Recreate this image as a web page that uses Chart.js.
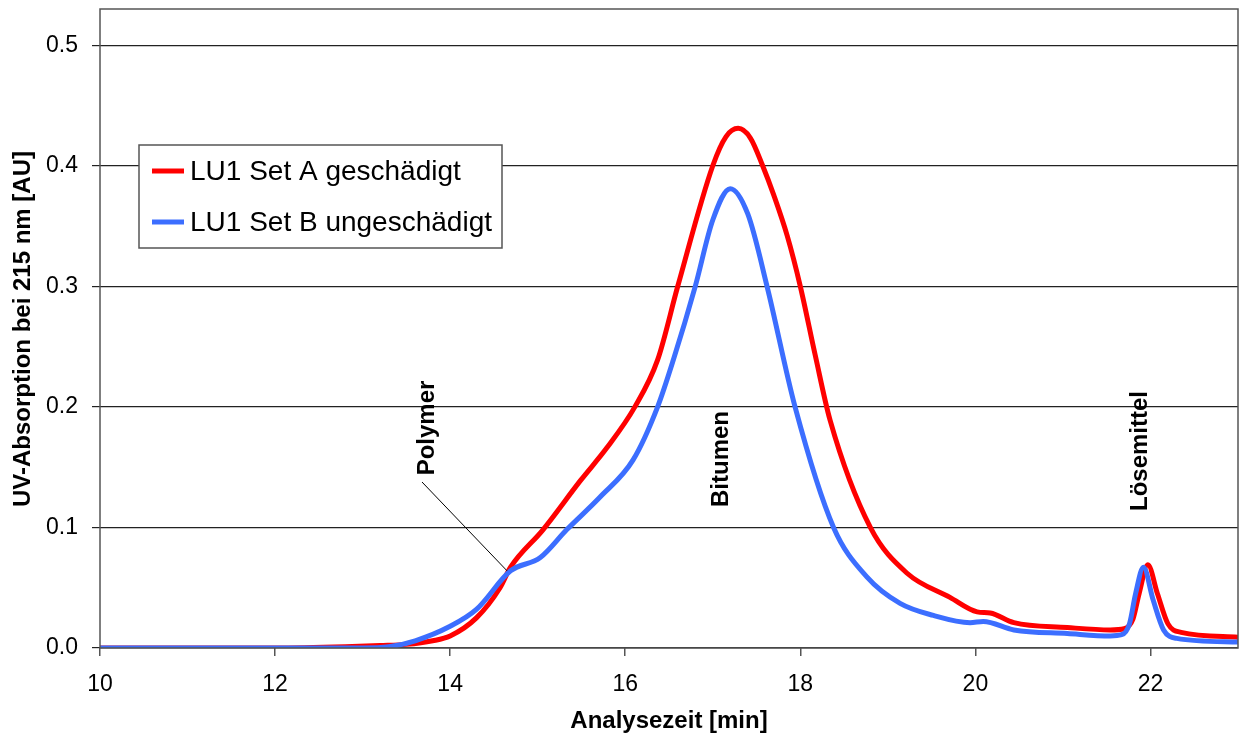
<!DOCTYPE html>
<html>
<head>
<meta charset="utf-8">
<script src="https://cdn.jsdelivr.net/npm/chart.js@4"></script>
<style>
  html, body { margin: 0; padding: 0; background: #fff; }
  #wrap { width: 1247px; height: 742px; }
</style>
</head>
<body>
<div id="wrap"><canvas id="myChart1" width="1247" height="742"></canvas></div>
<script>
// data
const timeA = [10, 11, 12, 12.8, 13.2, 13.5, 13.8, 14.0, 14.3, 14.57, 14.69, 15.06, 15.49, 15.79, 16.11, 16.37, 16.6, 17.0, 17.15, 17.29, 17.43, 17.57, 17.7, 17.85, 18.0, 18.17, 18.34, 18.8, 19.22, 19.71, 20.02, 20.17, 20.44, 21.05, 21.54, 21.7, 21.8, 21.87, 21.97, 22.08, 22.2, 22.35, 23];
const absA  = [0, 0, 0, 0.001, 0.002, 0.003, 0.006, 0.010, 0.025, 0.050, 0.067, 0.098, 0.139, 0.166, 0.200, 0.239, 0.300, 0.400, 0.424, 0.431, 0.423, 0.400, 0.375, 0.342, 0.300, 0.243, 0.189, 0.100, 0.062, 0.042, 0.030, 0.029, 0.021, 0.017, 0.015, 0.016, 0.024, 0.045, 0.069, 0.045, 0.020, 0.013, 0.009];

const timeB = [10, 11, 12, 13.0, 13.3, 13.6, 14.0, 14.3, 14.69, 15.03, 15.33, 15.71, 16.09, 16.37, 16.55, 16.8, 17.0, 17.2, 17.4, 17.62, 17.94, 18.38, 18.76, 19.14, 19.52, 19.94, 20.09, 20.44, 21.05, 21.54, 21.67, 21.76, 21.83, 21.92, 22.03, 22.15, 22.3, 23];
const absB  = [0, 0, 0, 0, 0.001, 0.006, 0.018, 0.032, 0.064, 0.075, 0.098, 0.125, 0.156, 0.200, 0.239, 0.300, 0.355, 0.381, 0.360, 0.300, 0.200, 0.100, 0.059, 0.037, 0.027, 0.021, 0.022, 0.015, 0.012, 0.010, 0.011, 0.020, 0.045, 0.067, 0.040, 0.015, 0.008, 0.005];

const seriesNames = ["LU1 Set A geschädigt", "LU1 Set B ungeschädigt"];
const seriesColors = ["#ff0000", "#3c6eff"];
const xTicks = [10, 12, 14, 16, 18, 20, 22];
const yTicks = [0, 0.1, 0.2, 0.3, 0.4, 0.5];
const peakNames = ["Polymer", "Bitumen", "Lösemittel"];

function toPoints(xs, ys) {
  return xs.map((x, i) => ({ x: x, y: ys[i] }));
}

const decor = {
  id: "decor",
  afterDraw(chart) {
    const ctx = chart.ctx;
    const a = chart.chartArea;
    const xs = chart.scales.x, ys = chart.scales.y;
    ctx.save();
    // plot frame
    ctx.strokeStyle = "#555";
    ctx.lineWidth = 1.5;
    ctx.strokeRect(a.left, a.top, a.right - a.left, a.bottom - a.top);

    // leader line for Polymer
    ctx.strokeStyle = "#000";
    ctx.lineWidth = 1;
    ctx.beginPath();
    ctx.moveTo(422, 482);
    ctx.lineTo(xs.getPixelForValue(14.65), ys.getPixelForValue(0.064));
    ctx.stroke();

    // rotated peak labels
    ctx.fillStyle = "#000";
    ctx.font = "bold 24px 'Liberation Sans', Arial, sans-serif";
    ctx.textAlign = "center";
    ctx.textBaseline = "middle";
    const spots = [[427, 428], [721, 459], [1140, 451]];
    peakNames.forEach((name, i) => {
      ctx.save();
      ctx.translate(spots[i][0], spots[i][1]);
      ctx.rotate(-Math.PI / 2);
      ctx.fillText(name, 0, 0);
      ctx.restore();
    });

    // legend box
    ctx.fillStyle = "#fff";
    ctx.fillRect(139, 145, 363, 103);
    ctx.strokeStyle = "#555";
    ctx.lineWidth = 1.5;
    ctx.strokeRect(139, 145, 363, 103);
    ctx.font = "28px 'Liberation Sans', Arial, sans-serif";
    ctx.textAlign = "left";
    seriesNames.forEach((name, i) => {
      const y = 171 + i * 51;
      ctx.strokeStyle = seriesColors[i];
      ctx.lineWidth = 5;
      ctx.beginPath();
      ctx.moveTo(152, y);
      ctx.lineTo(184, y);
      ctx.stroke();
      ctx.fillStyle = "#000";
      ctx.fillText(name, 190, y + 1);
    });

    // axis titles
    ctx.font = "bold 24px 'Liberation Sans', Arial, sans-serif";
    ctx.textAlign = "center";
    ctx.fillText("Analysezeit [min]", 669, 721);
    ctx.save();
    ctx.translate(23, 329);
    ctx.rotate(-Math.PI / 2);
    ctx.fillText("UV-Absorption bei 215 nm [AU]", 0, 0);
    ctx.restore();
    ctx.restore();
  }
};

const data = {
  datasets: [
    {
      label: seriesNames[1],
      data: toPoints(timeB, absB),
      borderColor: seriesColors[1],
      borderWidth: 5,
      pointRadius: 0,
      cubicInterpolationMode: "monotone",
    },
    {
      label: seriesNames[0],
      data: toPoints(timeA, absA),
      borderColor: seriesColors[0],
      borderWidth: 5,
      pointRadius: 0,
      cubicInterpolationMode: "monotone",
    },
  ],
};

const config = {
  type: "line",
  data: data,
  options: {
    responsive: false,
    animation: false,
    layout: { padding: { left: 0, right: 9, top: 9, bottom: 0 } },
    plugins: {
      legend: { display: false },
      tooltip: { enabled: false },
    },
    scales: {
      x: {
        type: "linear",
        min: 10,
        max: 23,
        afterBuildTicks: (s) => { s.ticks = xTicks.map(v => ({ value: v })); },
        afterFit: (s) => { s.height = 94; s.paddingLeft = 0; s.paddingRight = 0; },
        grid: { drawOnChartArea: false, color: "#555", tickLength: 8, lineWidth: 1.5 },
        border: { display: false },
        ticks: {
          color: "#000",
          padding: 15,
          maxRotation: 0,
          font: { size: 23, family: "'Liberation Sans', Arial, sans-serif" },
        },
      },
      y: {
        min: 0,
        max: 0.53,
        afterBuildTicks: (s) => { s.ticks = yTicks.map(v => ({ value: v })); },
        afterFit: (s) => { s.width = 100; s.paddingTop = 0; s.paddingBottom = 0; },
        grid: { color: "#222", tickLength: 8, lineWidth: 1.2 },
        border: { display: false },
        ticks: {
          color: "#000",
          padding: 14,
          font: { size: 23, family: "'Liberation Sans', Arial, sans-serif" },
          callback: (v) => v.toFixed(1),
        },
      },
    },
  },
  plugins: [decor],
};

const myChart = new Chart(document.getElementById("myChart1"), config);
</script>
</body>
</html>
